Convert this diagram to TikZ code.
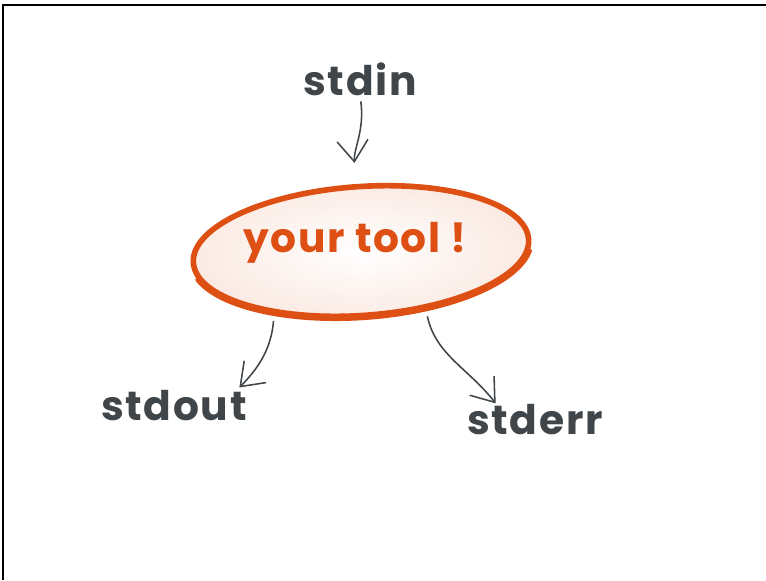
\documentclass[tikz,border=0pt]{standalone}
\usepackage{fontspec}
\usepackage{xcolor}
\usepackage{tikz}
\usetikzlibrary{arrows.meta,positioning,shapes.geometric}
\newfontfamily\sketchfont[LetterSpace=4]{Poppins}
\definecolor{inkgray}{HTML}{3F4548}
\definecolor{toolorange}{HTML}{DD4F12}
\tikzset{
  Slabel/.style={font=\sketchfont\bfseries\fontsize{29}{34}\selectfont,
                 text=inkgray, inner sep=0pt},
  Tool/.style={ellipse, draw=toolorange, line width=4pt, shading=radial,
               inner color=white, outer color=toolorange!12,
               minimum width=8.4cm, minimum height=3.22cm, rotate=4},
  Tname/.style={font=\sketchfont\bfseries\fontsize{29}{34}\selectfont,
                text=toolorange, inner sep=0pt},
  Tedge/.style={draw=toolorange, line width=3pt, line cap=round},
  Sarr/.style={-{Straight Barb[length=15pt,width=22pt]}, draw=inkgray,
               line width=1.1pt}
}

\begin{document}
\begin{tikzpicture}[x=0.025cm, y=0.025cm]
  \useasboundingbox (0,0) rectangle (766,-580);
  \draw[line width=1pt] (3,-580) -- (3,-5) -- (766,-5);

  \node[Slabel] (stdin) at (360,-79) {stdin};
  \node[Tool] (tool) at (361,-251) {};
  % heavier stroke along the lower rim
  \begin{scope}[shift={(tool.center)}, rotate=4]
    \draw[Tedge] (195:171 and 67) arc[start angle=195, end angle=350,
                                      x radius=171, y radius=67];
  \end{scope}
  \node[Tname] (tname) at (355,-243) {your tool !};
  \node[Slabel] (stdout) at (174,-406) {stdout};
  \node[Slabel] (stderr) at (535,-420) {stderr};

  \draw[Sarr, shorten <=4pt, shorten >=15pt]
    (stdin.south) to[out=-82, in=95] (tool.north);
  \draw[Sarr, shorten <=5pt, shorten >=3pt]
    (tool.212) to[out=-95, in=45] (stdout.14);
  \draw[Sarr, shorten <=5pt, shorten >=1pt]
    (tool.314) to[out=-78, in=128] (stderr.158);
\end{tikzpicture}
\end{document}
